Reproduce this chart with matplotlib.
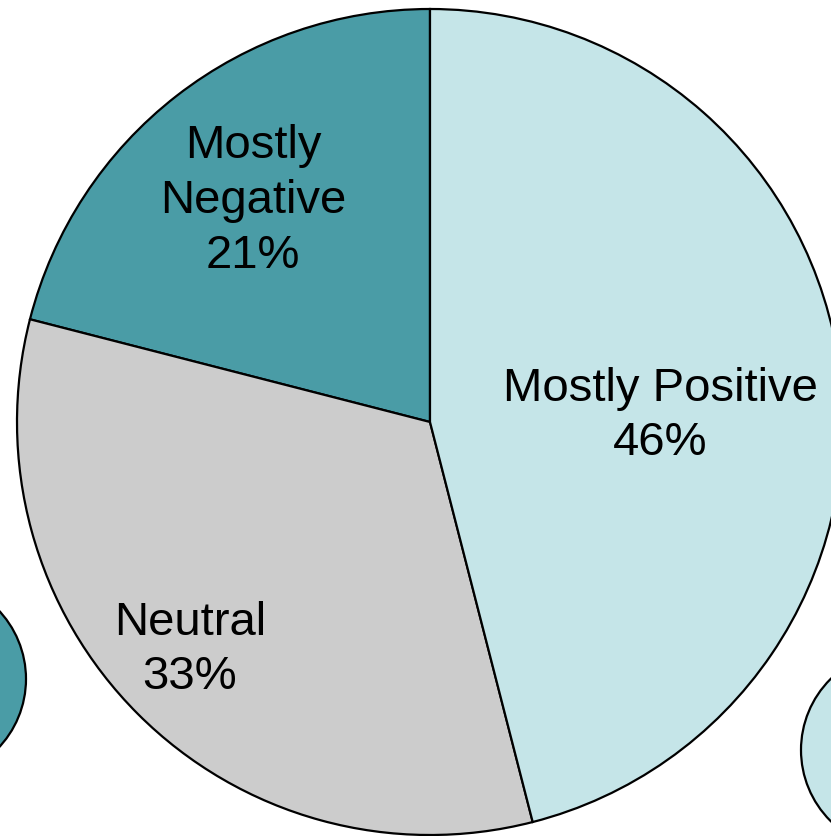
import numpy as np
import matplotlib.pyplot as plt
from matplotlib.patches import Circle

# Data (counterclockwise from the top)
labels = ['Mostly\nNegative', 'Neutral', 'Mostly Positive']
shares = [21, 33, 46]
colors = ['#4a9ca6', '#cccccc', '#c5e5e8']

W, H = 831, 837
cx, cy, R = 430, 423, 413  # pie centre and radius in pixels

fig = plt.figure(figsize=(W / 100, H / 100), dpi=100)
ax = fig.add_axes([0, 0, 1, 1])

wedges, _ = ax.pie(shares, colors=colors, startangle=90, counterclock=True,
                   radius=1, center=(0, 0), frame=True,
                   wedgeprops=dict(edgecolor='black', linewidth=1.6))
ax.set_xlim(-cx / R, (W - cx) / R)
ax.set_ylim(-(H - cy) / R, cy / R)
ax.set_aspect('equal')
ax.axis('off')

# labels placed inside each wedge
pos = [(253, 201), (190, 650), (660, 416)]
for lab, s, (px, py) in zip(labels, shares, pos):
    ax.text((px - cx) / R, (cy - py) / R, f'{lab}\n{s}%', ha='center',
            va='center', fontsize=34, family='Liberation Sans',
            linespacing=1.32)

# cropped legend markers at the edges
for (px, py), c in [((-74, 680), colors[0]), ((901, 751), colors[2])]:
    ax.add_patch(Circle(((px - cx) / R, (cy - py) / R), 100 / R, facecolor=c,
                        edgecolor='black', linewidth=1.6))

fig.savefig('out.png', dpi=100)
